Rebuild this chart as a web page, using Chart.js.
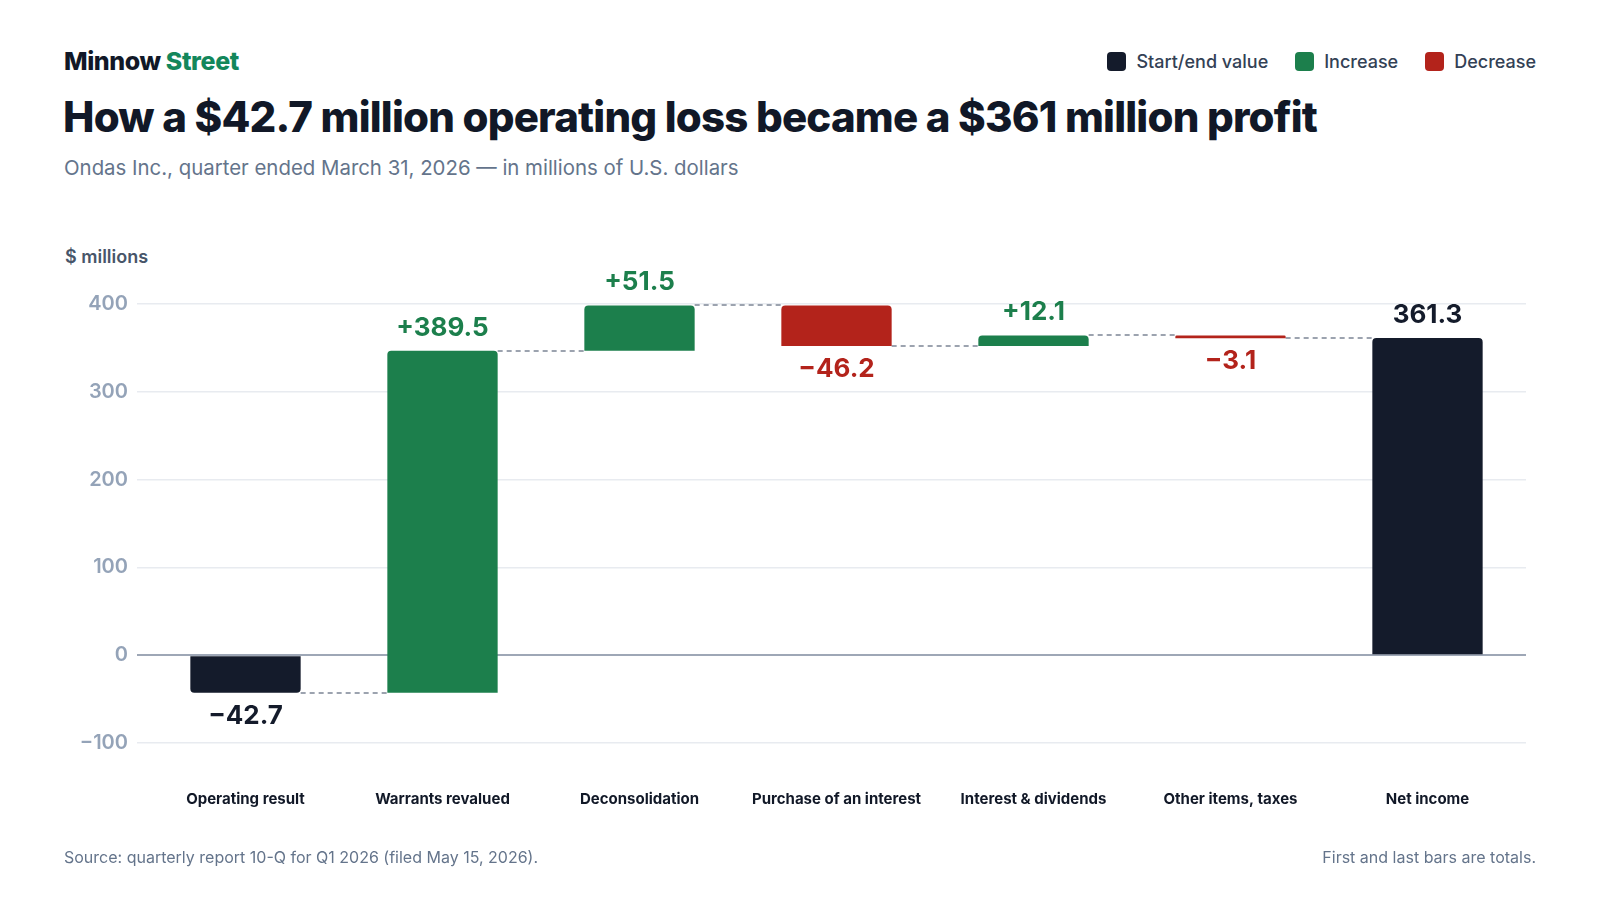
<!DOCTYPE html>
<html>
<head>
<meta charset="utf-8">
<title>Minnow Street waterfall</title>
<script src="https://cdn.jsdelivr.net/npm/chart.js@4.4.1/dist/chart.umd.min.js"></script>
<style>
    body {
        margin: 0;
        width: 1600px;
        height: 900px;
        background: #fff;
        font-family: Inter, 'Noto Sans', sans-serif;
        position: relative;
        overflow: hidden;
    }
    .abs { position: absolute; line-height: 1; white-space: nowrap; }
    #brand { left: 64px; top: 49px; font-size: 25px; font-weight: 800; color: #111827; letter-spacing: -0.4px; }
    #brand span { color: #13875b; }
    #title { left: 63px; top: 96px; font-size: 42px; font-weight: 800; color: #111827; letter-spacing: -0.8px; }
    #subtitle { left: 64px; top: 158px; font-size: 20.4px; color: #64748b; }
    #unit { left: 65px; top: 248px; font-size: 18px; font-weight: 600; color: #475569; }
    #legend { right: 64px; top: 52px; display: flex; gap: 27px; font-size: 18px; font-weight: 500; color: #334155; }
    .item { display: flex; align-items: center; gap: 10px; }
    .sw { width: 19px; height: 19px; border-radius: 4px; }
    #chartBox { position: absolute; left: 64px; top: 200px; width: 1472px; height: 686px; }
    #source { left: 64px; top: 849px; font-size: 16px; color: #64748b; }
    #note { right: 64px; top: 849px; font-size: 16px; color: #64748b; }
</style>
</head>
<body>
<div id="brand" class="abs">Minnow <span>Street</span></div>
<div id="legend" class="abs">
    <div class="item"><div class="sw" style="background:#141b2b"></div>Start/end value</div>
    <div class="item"><div class="sw" style="background:#1c7f4c"></div>Increase</div>
    <div class="item"><div class="sw" style="background:#b3231b"></div>Decrease</div>
</div>
<div id="title" class="abs">How a $42.7 million operating loss became a $361 million profit</div>
<div id="subtitle" class="abs">Ondas Inc., quarter ended March 31, 2026 — in millions of U.S. dollars</div>
<div id="unit" class="abs">$ millions</div>
<div id="chartBox"><canvas id="chart"></canvas></div>
<div id="source" class="abs">Source: quarterly report 10-Q for Q1 2026 (filed May 15, 2026).</div>
<div id="note" class="abs">First and last bars are totals.</div>

<script>
// data
const categories = ['Operating result', 'Warrants revalued', 'Deconsolidation', 'Purchase of an interest',
    'Interest & dividends', 'Other items, taxes', 'Net income'];
const changes = [-42.7, 389.5, 51.5, -46.2, 12.1, -3.1, 361.3];
const kinds = ['total', 'increase', 'increase', 'decrease', 'increase', 'decrease', 'total'];
const yMin = -100;
const yMax = 400;
const yStep = 100;

const colors = { total: '#141b2b', increase: '#1c7f4c', decrease: '#b3231b' };

// floating bars [from, to] and the running level after each bar
let running = 0;
const floats = [];
const levels = [];
changes.forEach((v, i) => {
    if (kinds[i] === 'total') {
        floats.push([0, v]);
        running = v;
    } else {
        floats.push([running, running + v]);
        running += v;
    }
    levels.push(running);
});

const minus = (v) => (v < 0 ? '\u2212' + Math.abs(v) : String(v));

function labelText(i) {
    const v = changes[i];
    if (kinds[i] === 'total') return v < 0 ? '\u2212' + Math.abs(v).toFixed(1) : v.toFixed(1);
    return (v < 0 ? '\u2212' : '+') + Math.abs(v).toFixed(1);
}

const connectors = {
    id: 'connectors',
    beforeDatasetsDraw(chart) {
        const { ctx } = chart;
        const bars = chart.getDatasetMeta(0).data;
        const y = chart.scales.y;
        ctx.save();
        ctx.strokeStyle = '#9ca3af';
        ctx.lineWidth = 2;
        ctx.setLineDash([5, 4]);
        for (let i = 0; i < bars.length - 1; i++) {
            const py = Math.round(y.getPixelForValue(levels[i]));
            ctx.beginPath();
            ctx.moveTo(bars[i].x + bars[i].width / 2, py);
            ctx.lineTo(bars[i + 1].x - bars[i + 1].width / 2, py);
            ctx.stroke();
        }
        ctx.restore();
    }
};

const valueLabels = {
    id: 'valueLabels',
    afterDatasetsDraw(chart) {
        const { ctx } = chart;
        const bars = chart.getDatasetMeta(0).data;
        const y = chart.scales.y;
        ctx.save();
        ctx.font = '700 26px Inter';
        ctx.textAlign = 'center';
        ctx.textBaseline = 'middle';
        bars.forEach((bar, i) => {
            const [a, b] = floats[i];
            const up = b >= a;
            const py = up ? y.getPixelForValue(Math.max(a, b)) - 23 : y.getPixelForValue(Math.min(a, b)) + 23;
            ctx.fillStyle = colors[kinds[i]];
            ctx.fillText(labelText(i), bar.x, py);
        });
        ctx.restore();
    }
};

Chart.defaults.font.family = 'Inter';

new Chart(document.getElementById('chart').getContext('2d'), {
    type: 'bar',
    data: {
        labels: categories,
        datasets: [{
            data: floats,
            backgroundColor: kinds.map(k => colors[k]),
            borderRadius: 4,
            barPercentage: 0.56,
            categoryPercentage: 1
        }]
    },
    options: {
        responsive: true,
        maintainAspectRatio: false,
        animation: false,
        layout: { padding: { top: 104, right: 10, bottom: 31, left: 0 } },
        plugins: {
            legend: { display: false },
            tooltip: { enabled: false }
        },
        scales: {
            x: {
                grid: { display: false, drawTicks: false },
                border: { display: false },
                ticks: {
                    padding: 47,
                    maxRotation: 0,
                    autoSkip: false,
                    color: '#111827',
                    font: { size: 15, weight: '700' }
                }
            },
            y: {
                min: yMin,
                max: yMax,
                afterFit(axis) { axis.width = 83; },
                grid: {
                    tickLength: 10,
                    color: (c) => (c.tick && c.tick.value === 0 ? '#9ea7b6' : '#e8ebf0'),
                    lineWidth: (c) => (c.tick && c.tick.value === 0 ? 2 : 1.5)
                },
                border: { display: false },
                ticks: {
                    stepSize: yStep,
                    padding: 9,
                    color: '#94a3b8',
                    font: { size: 20, weight: '600' },
                    callback: (v) => minus(v)
                }
            }
        }
    },
    plugins: [connectors, valueLabels]
});
</script>
</body>
</html>
